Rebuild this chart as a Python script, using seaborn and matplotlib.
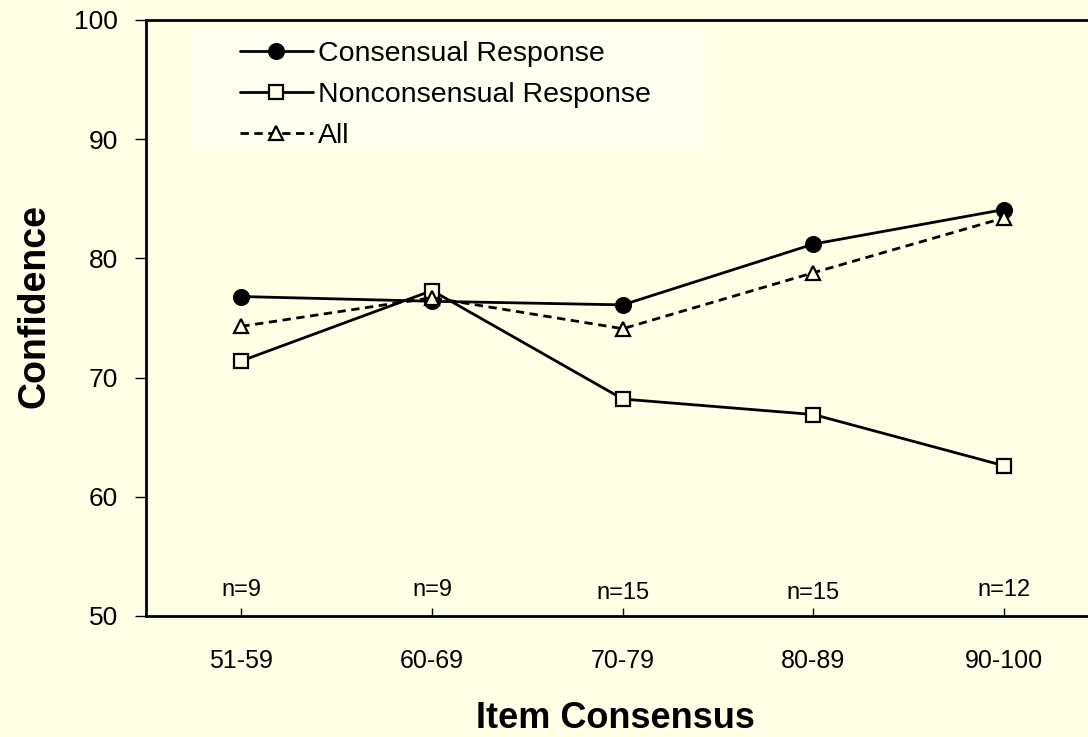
import matplotlib
matplotlib.use('Agg')
import matplotlib.pyplot as plt
from matplotlib.patches import Rectangle
import seaborn as sns
import pandas as pd

# Values
categories = ['51-59', '60-69', '70-79', '80-89', '90-100']
consensual = [76.8, 76.4, 76.1, 81.2, 84.1]
nonconsensual = [71.4, 77.3, 68.2, 66.9, 62.6]
all_items = [74.3, 76.7, 74.1, 78.8, 83.4]
n_labels = ['n=9', 'n=9', 'n=15', 'n=15', 'n=12']
n_y = [52.2, 52.2, 51.9, 51.9, 52.2]

bg = '#FFFFE6'

sns.set_style('ticks')
plt.rcParams['font.family'] = ['Liberation Sans', 'DejaVu Sans']
plt.rcParams.update({'text.color': 'black', 'axes.labelcolor': 'black',
                     'xtick.color': 'black', 'ytick.color': 'black'})

df = pd.DataFrame({'cat': categories, 'cons': consensual,
                   'noncons': nonconsensual, 'all': all_items})

fig = plt.figure(figsize=(10.88, 7.37), dpi=100, facecolor=bg)
ax = fig.add_axes([0.1342, 0.1642, 0.8764, 0.8087])
ax.set_facecolor(bg)

# lighter box behind the legend
ax.add_patch(Rectangle((0.048, 0.782), 0.538, 0.201, transform=ax.transAxes,
                       facecolor='#FFFFF0', edgecolor='none', zorder=0))

sns.lineplot(data=df, x='cat', y='cons', ax=ax, color='black', lw=2.0,
             marker='o', markersize=11.5, markerfacecolor='black',
             markeredgecolor='black', label='Consensual Response', sort=False)
sns.lineplot(data=df, x='cat', y='noncons', ax=ax, color='black', lw=2.0,
             marker='s', markersize=10.5, markerfacecolor=bg,
             markeredgecolor='black', markeredgewidth=1.6,
             label='Nonconsensual Response', sort=False)
sns.lineplot(data=df, x='cat', y='all', ax=ax, color='black', lw=2.0,
             linestyle=(0, (3, 2)), marker='^', markersize=10.5,
             markerfacecolor=bg, markeredgecolor='black', markeredgewidth=1.6,
             label='All', sort=False)

for i, (lab, yy) in enumerate(zip(n_labels, n_y)):
    ax.text(i, yy, lab, ha='center', va='center', fontsize=17)

ax.set_xlim(-0.5, 4.5)
ax.set_ylim(50, 100)
ax.set_yticks([50, 60, 70, 80, 90, 100])
ax.set_xlabel('Item Consensus', fontsize=26, fontweight='bold', labelpad=20)
ax.set_ylabel('Confidence', fontsize=27, fontweight='bold', labelpad=16)
ax.xaxis.label.set_x(0.492)
ax.yaxis.label.set_y(0.52)

ax.tick_params(axis='y', direction='out', length=8, width=1, labelsize=19, pad=12)
ax.tick_params(axis='x', direction='in', length=6, width=1, labelsize=18, pad=24)
for s in ['left', 'bottom', 'top']:
    ax.spines[s].set_linewidth(2)
    ax.spines[s].set_color('black')
ax.spines['right'].set_visible(False)

leg = ax.legend(loc='upper left', bbox_to_anchor=(0.0986, 0.964), fontsize=20.5,
                handlelength=2.56, handletextpad=0.18, labelspacing=0.52,
                frameon=False, borderpad=0, borderaxespad=0)

fig.savefig('out.png', dpi=100, facecolor=bg)
